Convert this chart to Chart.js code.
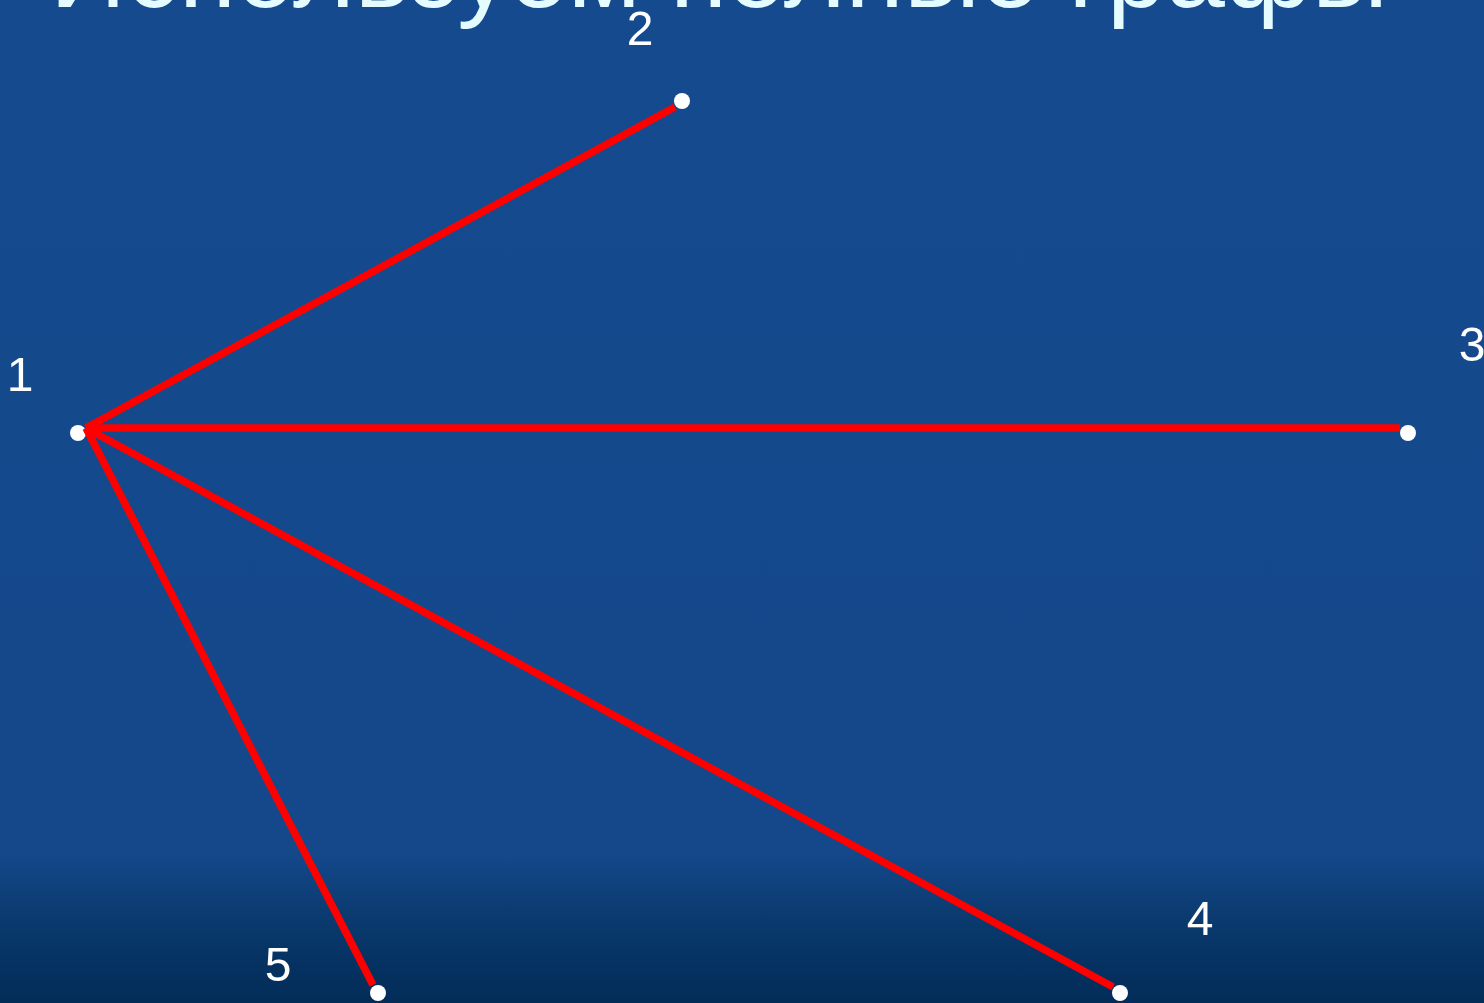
<!DOCTYPE html>
<html>
<head>
<meta charset="utf-8">
<script src="https://cdn.jsdelivr.net/npm/chart.js@4.4.1/dist/chart.umd.min.js"></script>
<style>
    html, body {
        margin: 0;
        padding: 0;
        width: 1484px;
        height: 1003px;
        overflow: hidden;
    }
    body {
        background: linear-gradient(to bottom, #154a8e 0%, #14488b 85%, #0b3b70 91%, #053262 96%, #032c58 100%);
    }
    #wrap {
        position: absolute;
        left: 0;
        top: 0;
        width: 1484px;
        height: 1003px;
    }
</style>
</head>
<body>
<div id="wrap"><canvas id="graph"></canvas></div>
<script>
// Star graph: vertex 1 joined to vertices 2..5

const titleText = 'Используем полные графы';

// vertices (dot centres, picture coordinates)
const nodeLabels = ['1', '2', '3', '4', '5'];
const nodeX = [78, 682, 1408, 1120, 378];
const nodeY = [433, 101, 433, 993, 993];

// where the number of each vertex sits
const labelX = [20, 640, 1472, 1200, 278];
const labelY = [378, 32, 348, 922, 968];

// edges (the red lines are drawn a little off the dots, as in the picture)
const edgeFromX = [86, 86, 86, 86];
const edgeFromY = [428, 428, 428, 428];
const edgeToX = [675, 1400, 1113, 373];
const edgeToY = [107, 428, 987, 985];

const edgeSets = edgeToX.map((x, i) => ({
    data: [
        { x: edgeFromX[i], y: edgeFromY[i] },
        { x: x, y: edgeToY[i] }
    ],
    showLine: true,
    borderColor: '#ff0000',
    borderWidth: 7.5,
    borderCapStyle: 'butt',
    pointRadius: 0,
    clip: false
}));

const nodeSet = {
    data: nodeX.map((x, i) => ({ x: x, y: nodeY[i] })),
    showLine: false,
    pointRadius: 8,
    pointBackgroundColor: '#ffffff',
    pointBorderWidth: 0,
    clip: false
};

// numbers next to the vertices
const vertexLabels = {
    id: 'vertexLabels',
    afterDatasetsDraw(chart) {
        const ctx = chart.ctx;
        const xs = chart.scales.x;
        const ys = chart.scales.y;
        ctx.save();
        ctx.fillStyle = '#ffffff';
        ctx.font = "48px 'Liberation Sans', Arial, sans-serif";
        ctx.textAlign = 'center';
        ctx.textBaseline = 'middle';
        nodeLabels.forEach((t, i) => {
            ctx.fillText(t, xs.getPixelForValue(labelX[i]), ys.getPixelForValue(labelY[i]));
        });
        ctx.restore();
    }
};

// slide heading, mostly cut off by the top edge
const slideTitle = {
    id: 'slideTitle',
    afterDraw(chart) {
        const ctx = chart.ctx;
        ctx.save();
        ctx.font = "100px 'Liberation Sans', Arial, sans-serif";
        const w = ctx.measureText(titleText).width;
        const size = 100 * 1338 / w;
        ctx.font = size + "px 'Liberation Sans', Arial, sans-serif";
        ctx.fillStyle = '#e4fbff';
        ctx.textAlign = 'left';
        ctx.textBaseline = 'alphabetic';
        ctx.fillText(titleText, 50, 7);
        ctx.restore();
    }
};

new Chart(document.getElementById('graph'), {
    type: 'scatter',
    data: {
        datasets: [...edgeSets, nodeSet]
    },
    options: {
        responsive: true,
        maintainAspectRatio: false,
        animation: false,
        layout: { padding: 0, autoPadding: false },
        plugins: {
            legend: { display: false },
            tooltip: { enabled: false }
        },
        scales: {
            x: {
                type: 'linear',
                min: 0,
                max: 1484,
                display: false
            },
            y: {
                type: 'linear',
                min: 0,
                max: 1003,
                reverse: true,
                display: false
            }
        }
    },
    plugins: [vertexLabels, slideTitle]
});
</script>
</body>
</html>
